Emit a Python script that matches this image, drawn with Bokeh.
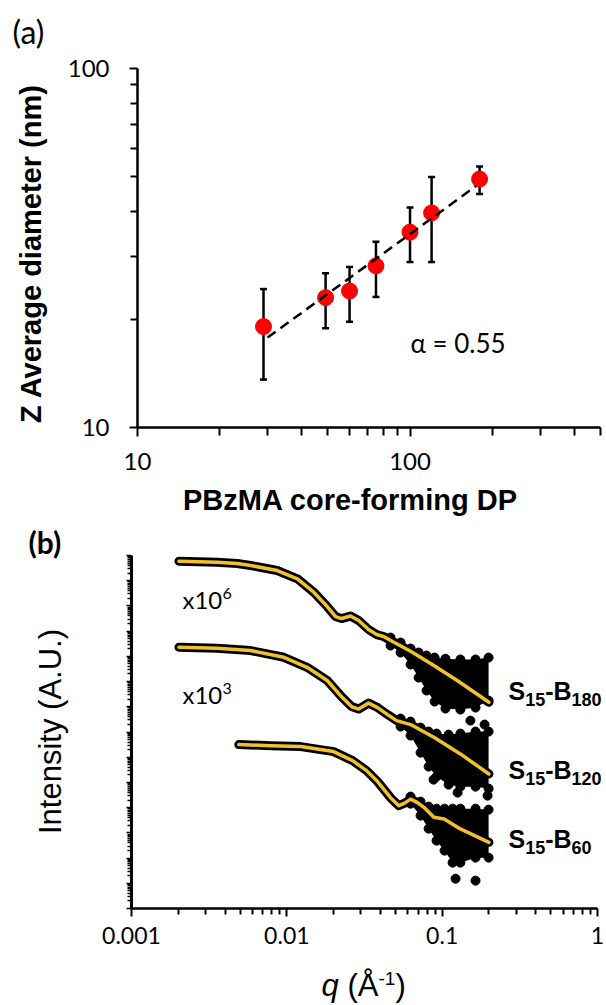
import math
import numpy as np
from bokeh.plotting import figure
from bokeh.layouts import column
from bokeh.models import (ColumnDataSource, Whisker, TeeHead, Label, FixedTicker,
                          CustomJSTickFormatter, Range1d)
from bokeh.embed import file_html
from bokeh.resources import INLINE

# ---------------- (a) DLS: Z-average diameter vs core-forming DP ----------------
dp = [29, 49, 60, 75, 100, 120, 180]
z_avg = [19.1, 23.0, 24.0, 28.2, 35.0, 39.6, 49.2]
z_upper = [24.3, 26.9, 28.0, 32.9, 41.0, 49.9, 53.3]
z_lower = [13.6, 18.9, 19.7, 23.1, 28.9, 28.9, 44.7]
# power-law fit (straight line on log-log), end points
fit_dp = [30, 175]
fit_z = [17.8, 47.1]
alpha_text = "\u03b1 = 0.55"

# ---------------- (b) SAXS profiles (unscaled intensities) ----------------
q_b180 = [0.00202, 0.00356, 0.00479, 0.00584, 0.00867, 0.0117, 0.0149, 0.0182, 0.0206, 0.0225,
          0.0257, 0.0290, 0.0336, 0.0378, 0.0420, 0.0479, 0.0626, 0.0884, 0.125, 0.200]
i_b180 = [5940, 5420, 4820, 4010, 2540, 1190, 350, 94.6, 37.9, 31.6,
          39.7, 26.4, 11.6, 7.33, 6.11, 3.86, 1.59, 0.431, 0.110, 0.0151]

q_b120 = [0.00202, 0.00356, 0.00584, 0.00957, 0.0135, 0.0182, 0.0227, 0.0261, 0.0290,
          0.0336, 0.0384, 0.0445, 0.0509, 0.0564, 0.0626, 0.0884, 0.131, 0.200]
i_b120 = [2296, 2094, 1698, 920, 369, 110, 23.8, 10.2, 8.11,
          14.0, 9.29, 4.90, 2.83, 2.36, 1.97, 0.617, 0.135, 0.0217]

q_b60 = [0.00491, 0.00785, 0.0123, 0.0200, 0.0265, 0.0326, 0.0384, 0.0465, 0.0526,
         0.0573, 0.0626, 0.0694, 0.0763, 0.0884, 0.103, 0.131, 0.200]
i_b60 = [316, 288, 264, 167, 73.3, 29.4, 10.8, 2.49, 1.20,
         1.51, 2.17, 1.58, 1.03, 0.412, 0.356, 0.143, 0.0420]

# spread of the noisy high-q data (upper / lower envelope)
qn_b180 = [0.0465, 0.0540, 0.0626, 0.0705, 0.0793, 0.0894, 0.105, 0.131, 0.164, 0.199]
up_b180 = [5.57, 3.53, 2.04, 1.42, 1.08, 0.895, 0.80, 0.75, 0.75, 0.895]
lo_b180 = [2.68, 1.42, 0.473, 0.144, 0.0440, 0.0161, 0.00849, 0.00774, 0.00929, 0.0176]

qn_b120 = [0.0540, 0.0626, 0.0726, 0.0818, 0.0920, 0.110, 0.131, 0.164, 0.199]
up_b120 = [3.40, 2.59, 1.50, 1.04, 0.865, 0.789, 0.865, 1.04, 1.04]
lo_b120 = [1.64, 0.720, 0.152, 0.0424, 0.0170, 0.00818, 0.00681, 0.00681, 0.00568]

qn_b60 = [0.0626, 0.0726, 0.0818, 0.0920, 0.1036, 0.1167, 0.131, 0.164, 0.199]
up_b60 = [2.74, 1.73, 1.10, 0.912, 0.912, 0.912, 0.912, 0.912, 0.834]
lo_b60 = [1.44, 0.482, 0.147, 0.0490, 0.0197, 0.00656, 0.00656, 0.0104, 0.0104]

# isolated points outside the envelopes
qo_b120 = [0.152, 0.1875, 0.088, 0.1257, 0.196]
io_b120 = [2.83, 1.97, 0.0129, 0.00394, 0.00299]
qo_b60 = [0.122, 0.164]
io_b60 = [0.00152, 0.00127]

offsets = [1e6, 1e3, 1]
sample_names = ["180", "120", "60"]

CAL = "Lato"
ARI = "Liberation Sans"
GOLD = "#f2c12a"

W = 606
HA, HB = 522, 483          # heights of the two panels


def log_range(v0, p0, v1, p1, size):
    """Range whose value v0 sits at pixel p0 and v1 at pixel p1 on a log axis of length size."""
    per = (p1 - p0) / (math.log10(v1) - math.log10(v0))
    start = math.log10(v0) - p0 / per
    return Range1d(10 ** start, 10 ** (start + size / per))


def label(p, h, x, y, text, size, font, style="normal", vertical=False, align="left"):
    # x, y: pixels from the panel's top-left corner, at the text baseline
    shift = 0.35 * size    # the renderer drops "alphabetic" text this far below the anchor
    if vertical:
        x -= shift
    else:
        y -= shift
    p.add_layout(Label(x=x, y=h - y, x_units="screen", y_units="screen", text=text,
                       text_font=font, text_font_size=f"{size}px", text_font_style=style,
                       angle=math.pi / 2 if vertical else 0.0, text_align=align,
                       text_baseline="alphabetic", text_color="black"))


def style_axis(ax, width=2.5):
    ax.axis_line_width = width
    ax.axis_line_color = "black"
    ax.major_tick_line_width = 2
    ax.minor_tick_line_width = 2
    ax.major_tick_line_color = "black"
    ax.minor_tick_line_color = "black"
    ax.major_tick_in = 0
    ax.minor_tick_in = 0
    ax.major_label_text_color = "black"
    ax.major_label_text_font = CAL


def blank_figure(h, xr, yr):
    p = figure(width=W, height=h, x_axis_type="log", y_axis_type="log",
               x_range=xr, y_range=yr, output_backend="svg", toolbar_location=None,
               min_border=0)
    p.outline_line_color = None
    p.grid.visible = False
    p.background_fill_color = "white"
    p.border_fill_color = "white"
    return p


# ================= panel (a) =================
pa = blank_figure(HA, log_range(10, 137, 500, 600, W), log_range(10, HA - 427, 100, HA - 68, HA))

fmt = CustomJSTickFormatter(code="return String(tick);")
pa.xaxis.ticker = FixedTicker(ticks=[10, 100],
                              minor_ticks=[m * 10 for m in range(2, 10)] + [m * 100 for m in range(2, 6)])
pa.yaxis.ticker = FixedTicker(ticks=[10, 100], minor_ticks=[m * 10 for m in range(2, 10)])
for ax in (pa.xaxis[0], pa.yaxis[0]):
    style_axis(ax)
    ax.formatter = fmt
    ax.major_label_text_font_size = "24px"
pa.xaxis.fixed_location = 10
pa.xaxis.bounds = (10, 500)
pa.yaxis.fixed_location = 10
pa.yaxis.bounds = (10, 100)
pa.xaxis.major_tick_out = 9
pa.xaxis.minor_tick_out = 8
pa.yaxis.major_tick_out = 8
pa.yaxis.minor_tick_out = 7
pa.xaxis.major_label_standoff = 16
pa.yaxis.major_label_standoff = 20

src_a = ColumnDataSource(dict(dp=dp, z=z_avg, up=z_upper, lo=z_lower))
pa.scatter("dp", "z", source=src_a, size=16, color="#ff0000", line_color="#ff0000")
pa.add_layout(Whisker(source=src_a, base="dp", upper="up", lower="lo",
                      line_width=2.5, line_color="black",
                      upper_head=TeeHead(size=7, line_width=2.5, line_color="black"),
                      lower_head=TeeHead(size=7, line_width=2.5, line_color="black")))
pa.line(fit_dp, fit_z, line_width=2.5, line_color="black", line_dash="10 6")

label(pa, HA, 12, 42, "(a)", 32, CAL)
label(pa, HA, 410, 352, alpha_text, 26, CAL)
label(pa, HA, 350, 510, "PBzMA core-forming DP", 29, ARI, style="bold", align="center")
label(pa, HA, 41, 253, "Z Average diameter (nm)", 29, ARI, style="bold", vertical=True, align="center")

# ================= panel (b) =================
TOPB = 522   # page y of panel (b)
pb = blank_figure(HB, log_range(0.001, 131, 1, 597, W),
                  log_range(1e-4, HB - (908 - TOPB), 1e10, HB - (555 - TOPB), HB))

pb.xaxis.ticker = FixedTicker(ticks=[0.001, 0.01, 0.1, 1],
                              minor_ticks=[m * 10.0 ** k for k in range(-3, 0) for m in range(2, 10)])
pb.yaxis.ticker = FixedTicker(ticks=[10.0 ** k for k in range(-4, 11)],
                              minor_ticks=[m * 10.0 ** k for k in range(-4, 10) for m in range(2, 10)])
style_axis(pb.xaxis[0])
style_axis(pb.yaxis[0], width=3)
pb.xaxis.fixed_location = 1e-4
pb.xaxis.bounds = (0.001, 1)
pb.yaxis.fixed_location = 0.001
pb.yaxis.bounds = (1e-4, 1e10)
pb.xaxis.formatter = fmt
pb.xaxis.major_label_text_font_size = "23px"
pb.xaxis.major_tick_out = 8
pb.xaxis.minor_tick_out = 6
pb.xaxis.major_label_standoff = 10
pb.yaxis.formatter = CustomJSTickFormatter(code="return '';")
pb.yaxis.major_tick_out = 5
pb.yaxis.minor_tick_out = 4
pb.yaxis.major_tick_line_width = 1.5
pb.yaxis.minor_tick_line_width = 1.5

curves = [(q_b180, i_b180), (q_b120, i_b120), (q_b60, i_b60)]
noise = [(qn_b180, up_b180, lo_b180), (qn_b120, up_b120, lo_b120), (qn_b60, up_b60, lo_b60)]
outliers = [([], []), (qo_b120, io_b120), (qo_b60, io_b60)]

# measured points: dense cloud at high q
for (qn, up, lo), (qo, io), k in zip(noise, outliers, offsets):
    upk = np.array(up) * k
    lok = np.array(lo) * k
    pb.varea(x=qn, y1=lok, y2=upk, fill_color="black")
    pb.scatter(qn, upk, size=9, color="black")
    pb.scatter(qn, lok, size=9, color="black")
    if qo:
        pb.scatter(qo, np.array(io) * k, size=9, color="black")

# measured points along the profile, then the model fit
for (q, i), k in zip(curves, offsets):
    pb.line(q, np.array(i) * k, line_width=9, line_color="black", line_cap="round", line_join="round")
for (q, i), k in zip(curves, offsets):
    pb.line(q, np.array(i) * k, line_width=3.5, line_color=GOLD, line_cap="round", line_join="round")

label(pb, HB, 28, 552 - TOPB, "(b)", 30, CAL, style="bold")
label(pb, HB, 61, 731 - TOPB, "Intensity (A.U.)", 31, ARI, vertical=True, align="center")

# q (Å^-1)
label(pb, HB, 321, 996 - TOPB, "q", 31, ARI, style="italic")
label(pb, HB, 347, 996 - TOPB, "(\u00c5", 31, ARI)
label(pb, HB, 378, 985 - TOPB, "-1", 19, ARI)
label(pb, HB, 395, 996 - TOPB, ")", 31, ARI)

# scale factors
for txt, sup, y in [("x10", "6", 607), ("x10", "3", 702)]:
    label(pb, HB, 182, y - TOPB, txt, 24, CAL)
    label(pb, HB, 222, y - 8 - TOPB, sup, 16, CAL)

# sample names with subscripts
for name, y in zip(sample_names, [699, 778, 847]):
    label(pb, HB, 508, y - TOPB, "S", 25, ARI, style="bold")
    label(pb, HB, 524.7, y + 6 - TOPB, "15", 18, ARI, style="bold")
    label(pb, HB, 544.7, y - TOPB, "-B", 25, ARI, style="bold")
    label(pb, HB, 571.1, y + 6 - TOPB, name, 18, ARI, style="bold")

layout = column(pa, pb, spacing=0)
open("out.html", "w").write(file_html(layout, INLINE))
